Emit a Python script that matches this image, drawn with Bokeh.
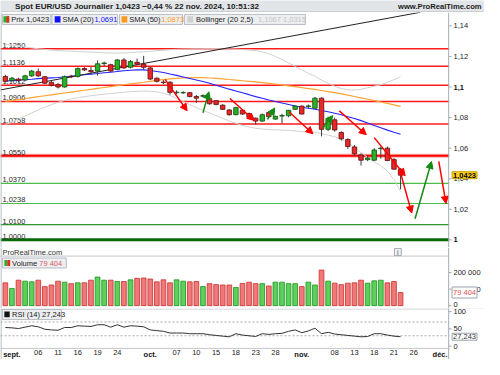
from bokeh.plotting import figure
from bokeh.layouts import column
from bokeh.models import (ColumnDataSource, Range1d, FixedTicker, Span, Label, LabelSet,
                          Arrow, NormalHead)
from bokeh.core.properties import value
from bokeh.embed import file_html
from bokeh.resources import INLINE

# ---------------- data ----------------
bar_idx = list(range(-1, 60))   # -1 = 30 Aug, 0 = 2 Sep ... 59 = 22 Nov
opens = [1.1069, 1.1042, 1.1052, 1.1046, 1.1073, 1.1100, 1.1067, 1.1031, 1.1017, 1.1000,
         1.1071, 1.1069, 1.1121, 1.1108, 1.1104, 1.1153, 1.1146, 1.1115, 1.1177, 1.1129,
         1.1162, 1.1150, 1.1125, 1.1058, 1.1032, 1.1031, 1.0963, 1.0962, 1.0963, 1.0938,
         1.0940, 1.0923, 1.0911, 1.0881, 1.0850, 1.0819, 1.0848, 1.0827, 1.0796, 1.0777,
         1.0833, 1.0790, 1.0810, 1.0812, 1.0854, 1.0875, 1.0873, 1.0861, 1.0927, 1.0723,
         1.0786, 1.0702, 1.0656, 1.0608, 1.0556, 1.0525, 1.0521, 1.0596, 1.0600, 1.0525,
         1.0462]
highs = [1.1080, 1.1066, 1.1060, 1.1080, 1.1112, 1.1121, 1.1072, 1.1038, 1.1025, 1.1075,
         1.1080, 1.1128, 1.1130, 1.1131, 1.1174, 1.1166, 1.1152, 1.1183, 1.1190, 1.1175,
         1.1186, 1.1204, 1.1130, 1.1062, 1.1045, 1.1038, 1.0978, 1.0972, 1.0968, 1.0948,
         1.0952, 1.0930, 1.0915, 1.0888, 1.0855, 1.0870, 1.0855, 1.0832, 1.0800, 1.0826,
         1.0838, 1.0812, 1.0825, 1.0850, 1.0880, 1.0880, 1.0885, 1.0935, 1.0932, 1.0806,
         1.0800, 1.0710, 1.0665, 1.0620, 1.0565, 1.0552, 1.0600, 1.0610, 1.0610, 1.0535,
         1.0470]
lows = [1.1030, 1.1036, 1.1030, 1.1040, 1.1066, 1.1066, 1.1018, 1.1004, 1.0990, 1.0996,
        1.1058, 1.1062, 1.1104, 1.1083, 1.1075, 1.1138, 1.1098, 1.1110, 1.1120, 1.1122,
        1.1143, 1.1115, 1.1045, 1.1030, 1.1018, 1.0950, 1.0952, 1.0955, 1.0932, 1.0896,
        1.0932, 1.0885, 1.0880, 1.0850, 1.0812, 1.0815, 1.0818, 1.0795, 1.0756, 1.0772,
        1.0800, 1.0786, 1.0762, 1.0802, 1.0850, 1.0820, 1.0860, 1.0858, 1.0677, 1.0712,
        1.0708, 1.0650, 1.0595, 1.0550, 1.0486, 1.0515, 1.0515, 1.0531, 1.0515, 1.0460,
        1.0331]
closes = [1.1037, 1.1058, 1.1042, 1.1073, 1.1104, 1.1073, 1.1025, 1.1011, 1.1000, 1.1069,
          1.1067, 1.1121, 1.1112, 1.1100, 1.1152, 1.1157, 1.1104, 1.1177, 1.1125, 1.1167,
          1.1150, 1.1129, 1.1052, 1.1037, 1.1029, 1.0965, 1.0966, 1.0964, 1.0938, 1.0927,
          1.0943, 1.0890, 1.0886, 1.0854, 1.0819, 1.0865, 1.0823, 1.0802, 1.0777, 1.0819,
          1.0806, 1.0808, 1.0813, 1.0848, 1.0875, 1.0823, 1.0876, 1.0927, 1.0723, 1.0786,
          1.0719, 1.0661, 1.0611, 1.0563, 1.0521, 1.0535, 1.0588, 1.0600, 1.0519, 1.0462,
          1.0423]
volumes = [138000, 104000, 154000, 148000, 144000, 154000, 115000, 125000, 148000, 142000,
           133000, 138000, 138000, 154000, 173000, 154000, 154000, 146000, 146000, 156000,
           165000, 167000, 161000, 144000, 156000, 138000, 156000, 148000, 144000, 146000,
           115000, 133000, 127000, 125000, 125000, 110000, 134000, 142000, 133000, 133000,
           119000, 142000, 142000, 133000, 133000, 115000, 142000, 125000, 215000, 148000,
           136000, 127000, 136000, 138000, 154000, 136000, 150000, 154000, 138000, 146000,
           79404]
sma20 = [1.1040, 1.1042, 1.1045, 1.1048, 1.1051, 1.1055, 1.1058, 1.1060, 1.1062, 1.1066,
         1.1070, 1.1075, 1.1080, 1.1084, 1.1088, 1.1093, 1.1097, 1.1102, 1.1106, 1.1110,
         1.1112, 1.1112, 1.1108, 1.1102, 1.1095, 1.1085, 1.1076, 1.1066, 1.1056, 1.1046,
         1.1036, 1.1024, 1.1012, 1.0999, 1.0986, 1.0974, 1.0962, 1.0950, 1.0937, 1.0926,
         1.0915, 1.0905, 1.0895, 1.0886, 1.0876, 1.0868, 1.0861, 1.0854, 1.0846, 1.0838,
         1.0828, 1.0818, 1.0806, 1.0794, 1.0780, 1.0764, 1.0748, 1.0733, 1.0718, 1.0704,
         1.0691]
sma50 = [1.0906, 1.0911, 1.0917, 1.0923, 1.0930, 1.0937, 1.0943, 1.0949, 1.0955, 1.0961,
         1.0967, 1.0973, 1.0979, 1.0985, 1.0991, 1.0997, 1.1003, 1.1009, 1.1015, 1.1021,
         1.1026, 1.1031, 1.1037, 1.1043, 1.1048, 1.1053, 1.1057, 1.1060, 1.1062, 1.1062,
         1.1061, 1.1059, 1.1056, 1.1053, 1.1049, 1.1045, 1.1041, 1.1037, 1.1033, 1.1029,
         1.1024, 1.1019, 1.1014, 1.1008, 1.1002, 1.0996, 1.0990, 1.0984, 1.0977, 1.0970,
         1.0963, 1.0955, 1.0947, 1.0938, 1.0929, 1.0920, 1.0911, 1.0902, 1.0893, 1.0883,
         1.0873]
boll_upper = [1.1280, 1.1275, 1.1268, 1.1262, 1.1256, 1.1250, 1.1246, 1.1242, 1.1238, 1.1236,
              1.1234, 1.1232, 1.1230, 1.1228, 1.1226, 1.1224, 1.1222, 1.1222, 1.1223, 1.1225,
              1.1228, 1.1230, 1.1234, 1.1238, 1.1240, 1.1244, 1.1247, 1.1248, 1.1249, 1.1250,
              1.1250, 1.1251, 1.1251, 1.1250, 1.1249, 1.1248, 1.1245, 1.1242, 1.1238, 1.1230,
              1.1218, 1.1200, 1.1180, 1.1158, 1.1135, 1.1112, 1.1090, 1.1070, 1.1045, 1.1025,
              1.1005, 1.0990, 1.0982, 1.0980, 1.0985, 1.0995, 1.1005, 1.1015, 1.1030, 1.1048,
              1.1067]
boll_lower = [1.0755, 1.0770, 1.0790, 1.0810, 1.0830, 1.0850, 1.0868, 1.0885, 1.0900, 1.0912,
              1.0922, 1.0930, 1.0937, 1.0943, 1.0948, 1.0953, 1.0958, 1.0962, 1.0966, 1.0970,
              1.0972, 1.0974, 1.0972, 1.0968, 1.0960, 1.0945, 1.0925, 1.0905, 1.0885, 1.0865,
              1.0847, 1.0830, 1.0813, 1.0795, 1.0778, 1.0762, 1.0748, 1.0738, 1.0730, 1.0725,
              1.0722, 1.0720, 1.0718, 1.0716, 1.0712, 1.0708, 1.0706, 1.0705, 1.0695, 1.0685,
              1.0675, 1.0660, 1.0635, 1.0605, 1.0570, 1.0540, 1.0510, 1.0485, 1.0450, 1.0395,
              1.0315]
rsi14 = [54, 53, 51, 55, 59, 56, 49, 47, 46, 54,
         54, 59, 58, 57, 62, 62, 55, 62, 55, 59,
         58, 56, 47, 45, 43, 38, 38, 38, 36, 36,
         36, 33, 31, 29, 27, 36, 32, 30, 28, 36,
         34, 36, 37, 43, 47, 39, 44, 52, 36, 40,
         35, 33, 31, 29, 27, 28, 36, 36, 32, 29,
         27.243]

level_values = [1.1250, 1.1136, 1.1012, 1.0906, 1.0758, 1.0550, 1.0370, 1.0238, 1.0100, 1.0000]
level_labels = ["1,1250", "1,1136", "1,1012", "1,0906", "1,0758", "1,0550",
                "1,0370", "1,0238", "1,0100", "1,0000"]
level_kinds = ["res", "res", "res", "res", "res", "key", "sup", "sup", "sup2", "base"]

trend_idx = [-1.73, 62.0]
trend_price = [1.0981, 1.1489]

red_arrow_x0 = [23.25, 33.1, 42.05, 49.7, 55.0, 59.0, 64.8]
red_arrow_y0 = [1.1050, 1.0925, 1.0838, 1.0844, 1.0669, 1.0438, 1.0513]
red_arrow_x1 = [26.6, 36.8, 45.7, 53.8, 59.7, 60.7, 65.9]
red_arrow_y1 = [1.0844, 1.0781, 1.0694, 1.0688, 1.0419, 1.0175, 1.0238]
green_arrow_x0 = [29.0, 38.8, 47.2, 61.2]
green_arrow_y0 = [1.0831, 1.0788, 1.0731, 1.0138]
green_arrow_x1 = [29.9, 39.9, 48.7, 63.7]
green_arrow_y1 = [1.0969, 1.0863, 1.0813, 1.0513]

price_ticks = [1.0, 1.02, 1.04, 1.06, 1.08, 1.10, 1.12, 1.14]
price_tick_labels = ["1", "1,02", "1,04", "1,06", "1,08", "1,1", "1,12", "1,14"]
price_bold_ticks = [1.0, 1.10]
vol_ticks = [0, 100000, 200000]
vol_tick_labels = ["0", "100 000", "200 000"]
rsi_ticks = [0, 50, 100]
rsi_tick_labels = ["0", "50", "100"]
rsi_levels = [70, 30]
date_ticks = [0, 4, 7, 10, 13, 16, 21, 25, 28, 31, 34, 37, 40, 44, 49, 52, 55, 58, 61, 65]
date_labels = ["sept.", "06", "11", "16", "19", "24", "oct.", "07", "10", "15", "18", "23",
               "28", "nov.", "08", "13", "18", "21", "26", "déc."]
month_labels = ["sept.", "oct.", "nov.", "déc."]

title_text = "Spot EUR/USD Journalier 1,0423 \u22120,44 % 22 nov. 2024, 10:51:32"
site_text = "www.ProRealTime.com"
last_price, last_price_text = 1.0423, "1,0423"
last_volume, last_volume_text = 79404, "79 404"
last_rsi, last_rsi_text = 27.243, "27,243"
legend_names = ["Prix 1,0423", "SMA (20)", "SMA (50)", "Bollinger (20 2,5)"]
legend_values = ["", "1,0691", "1,0873", "1,1067 1,0315"]

# ---------------- layout / style ----------------
FONT = "Liberation Sans"
FS = "7.5px"
W = 484
AXIS_C = "#a3abb4"
GREEN_C = "#138a13"
MAIN_H = 235

# reference-pixel helpers (placement of layout items only)
def rx(px): return (px - 11.8) / 6.805
def ry(py): return 1 + (250 - py) / 1600.0
def rv(py): return (319 - py) / 17.35 * 100000
def rr(py): return (361.1 - py) / 0.3583

xr = Range1d(rx(0), rx(500))


def base_fig(height, y_range, ticks, labels, **kw):
    f = figure(width=W, height=height, x_range=xr, y_range=y_range, toolbar_location=None,
               output_backend="svg", y_axis_location="right",
               min_border_left=0, min_border_right=0, min_border_top=0, min_border_bottom=0, **kw)
    f.outline_line_color = None
    f.grid.visible = False
    f.background_fill_color = "white"
    f.border_fill_color = "white"
    ax = f.yaxis[0]
    ax.ticker = FixedTicker(ticks=ticks)
    ax.major_label_overrides = {t: l for t, l in zip(ticks, labels)}
    ax.axis_line_color = None
    ax.major_tick_line_color = None
    ax.major_tick_out = 0
    ax.major_tick_in = 0
    ax.minor_tick_line_color = None
    ax.major_label_text_font = FONT
    ax.major_label_text_font_size = FS
    ax.major_label_text_color = "#222222"
    ax.major_label_standoff = -31
    return f


def finish(f, ticks, yr):
    # blank strip right of the frame edge that carries the price scale
    f.quad(left=rx(463.5), right=rx(520), bottom=yr.start, top=yr.end,
           fill_color="white", line_color=None)
    f.segment(x0=[rx(463)] * len(ticks), x1=[rx(466)] * len(ticks), y0=ticks, y1=ticks,
              line_color=AXIS_C, line_width=1)
    f.add_layout(Span(location=rx(463), dimension="height", line_color=AXIS_C, line_width=1))
    f.add_layout(Span(location=rx(0.5), dimension="height", line_color=AXIS_C, line_width=1))


def text(f, x, y, t, color="#1a1a1a", bold=False, align="left", size=FS):
    f.text(x=x, y=y, text=t, text_font=value(FONT), text_font_size=size,
           text_color=color, text_baseline="middle", text_align=align,
           text_font_style="bold" if bold else "normal")


def side_label(f, y, t, color, bg, border, bold=False):
    f.add_layout(Label(x=rx(466.5), y=y, text=t, text_font=FONT, text_font_size=FS,
                       text_font_style="bold" if bold else "normal", text_color=color,
                       text_baseline="middle", background_fill_color=bg,
                       border_line_color=border, padding=1))

# ---------------- header ----------------
hdr = figure(width=W, height=12, x_range=(0, 500), y_range=(0, 12), toolbar_location=None,
             output_backend="svg", x_axis_location=None, y_axis_location=None,
             min_border_left=0, min_border_right=0, min_border_top=0, min_border_bottom=0)
hdr.outline_line_color = None
hdr.grid.visible = False
hdr.background_fill_color = "#e2e5e8"
hdr.border_fill_color = "#e2e5e8"
hdr.add_layout(Span(location=0.5, dimension="width", line_color="#b4bac1", line_width=1))
text(hdr, [15], [6], [title_text], color="#1c1c1c", bold=True, size="8.1px")
text(hdr, [497], [6], [site_text], color="#1c1c1c", bold=True, align="right", size="7.6px")

# ---------------- price panel ----------------
pyr = Range1d(ry(258), ry(12))
p = base_fig(MAIN_H, pyr, price_ticks,
             [("" if t in price_bold_ticks else l) for t, l in zip(price_ticks, price_tick_labels)],
             x_axis_location=None)

# horizontal support / resistance levels
kind_style = {"res": ("#ff1a1a", 1.5), "key": ("#ff0000", 2), "sup": ("#4cbb4c", 1.2),
              "sup2": ("#2f942f", 1.2), "base": ("#0a6a0a", 3)}
for val, kind in zip(level_values, level_kinds):
    c, w = kind_style[kind]
    if kind == "key":
        p.add_layout(Span(location=val, dimension="width", line_color="#ffb0b0",
                          line_width=4, level="underlay"))
    p.add_layout(Span(location=val, dimension="width", line_color=c, line_width=w,
                      level="underlay"))

p.text(x=[rx(2)] * len(level_values), y=level_values, text=level_labels,
       text_font=value(FONT), text_font_size=FS, text_color="#2a2a2a",
       text_baseline="bottom", y_offset=-1)

p.line(bar_idx, boll_upper, line_color="#d2d2d2", line_width=1)
p.line(bar_idx, boll_lower, line_color="#d2d2d2", line_width=1)
p.line(bar_idx, sma50, line_color="#ffa333", line_width=1.2)
p.line(bar_idx, sma20, line_color="#2424ff", line_width=1.1)
p.line(trend_idx, trend_price, line_color="#222222", line_width=1)

up = [c >= o for o, c in zip(opens, closes)]
csrc = ColumnDataSource(dict(
    x=bar_idx, h=highs, l=lows,
    top=[max(o, c) for o, c in zip(opens, closes)],
    bottom=[min(o, c) for o, c in zip(opens, closes)],
    fill=["#27b327" if u else "#e82828" for u in up],
    edge=["#0f4f0f" if u else "#5a1010" for u in up],
))
p.segment(x0="x", y0="l", x1="x", y1="h", source=csrc, line_color="#3a3a3a", line_width=1)
p.vbar(x="x", width=0.68, top="top", bottom="bottom", source=csrc,
       fill_color="fill", line_color="edge", line_width=0.8)

for xs0, ys0, xs1, ys1, col in ((red_arrow_x0, red_arrow_y0, red_arrow_x1, red_arrow_y1, "#ff0000"),
                                (green_arrow_x0, green_arrow_y0, green_arrow_x1, green_arrow_y1, GREEN_C)):
    for a, b, c, d in zip(xs0, ys0, xs1, ys1):
        p.add_layout(Arrow(end=NormalHead(size=7, fill_color=col, line_color=col),
                           x_start=a, y_start=b, x_end=c, y_end=d,
                           line_color=col, line_width=1.5))

# legend boxes
box_l = [2, 53, 123, 190]
box_r = [52, 121, 188, 315]
icon_l = [3, 56, 125, 193]
icon_c = ["#27b327", "#1010ff", "#ff9a1a", "#cfcfcf"]
name_x = [11, 64, 133, 202]
value_x = [0, 97, 166, 266]
value_c = ["#111111", "#1010ff", "#ff9a1a", "#c4c4c4"]
p.quad(left=[rx(v) for v in box_l], right=[rx(v) for v in box_r],
       top=ry(14), bottom=ry(24.5), fill_color="#eceef0", line_color="#b7bcc2", line_width=1)
p.quad(left=[rx(v) for v in icon_l], right=[rx(v + 6) for v in icon_l],
       top=ry(16), bottom=ry(22.5), fill_color=icon_c, line_color=None)
p.quad(left=rx(6), right=rx(9), top=ry(16), bottom=ry(22.5), fill_color="#e82828", line_color=None)
for nm, nx, vv, vx, vc in zip(legend_names, name_x, legend_values, value_x, value_c):
    text(p, [rx(nx)], [ry(19.3)], [nm])
    if vv:
        text(p, [rx(vx)], [ry(19.3)], [vv], color=vc)

finish(p, price_ticks, pyr)
bold_lbl = [l for t, l in zip(price_ticks, price_tick_labels) if t in price_bold_ticks]
p.add_layout(LabelSet(source=ColumnDataSource(dict(x=[rx(468)] * len(price_bold_ticks),
                                                   y=price_bold_ticks, t=bold_lbl)),
                      x="x", y="y", text="t", text_font=value(FONT), text_font_size=FS,
                      text_font_style="bold", text_color="#111111", text_baseline="middle"))
side_label(p, last_price, last_price_text, "#000000", "#ffd21f", "#c9a400", bold=True)

# ---------------- volume panel ----------------
vyr = Range1d(rv(322), rv(258))
pv = base_fig(61, vyr, vol_ticks, vol_tick_labels, x_axis_location=None)
pv.segment(x0=[xr.start], x1=[xr.end], y0=[rv(267)], y1=[rv(267)], line_color="#c3c8ce", line_width=1)
text(pv, [rx(2)], [rv(263)], ["ProRealTime.com"], color="#333333")
pv.quad(left=rx(407), right=rx(414), top=rv(259), bottom=rv(266.5),
        fill_color="#eef0f2", line_color="#a4aab0")
text(pv, [rx(410.5)], [rv(262.8)], ["i"], color="#555555", align="center", size="7px")

vsrc = ColumnDataSource(dict(
    x=bar_idx, v=volumes,
    fill=["#5ccf5c" if u else "#ef7878" for u in up],
    edge=["#1a961a" if u else "#cc3030" for u in up],
))
pv.vbar(x="x", width=0.72, top="v", bottom=0, source=vsrc, fill_color="fill",
        line_color="edge", line_width=0.8)
pv.quad(left=rx(2), right=rx(68), top=rv(269), bottom=rv(279.5),
        fill_color="#eceef0", line_color="#b7bcc2")
pv.quad(left=rx(4), right=rx(7), top=rv(271), bottom=rv(277.5), fill_color="#27b327", line_color=None)
pv.quad(left=rx(7), right=rx(10), top=rv(271), bottom=rv(277.5), fill_color="#e82828", line_color=None)
text(pv, [rx(12)], [rv(274.3)], ["Volume"])
text(pv, [rx(40)], [rv(274.3)], [last_volume_text], color="#e06060")
finish(pv, vol_ticks, vyr)
side_label(pv, last_volume, last_volume_text, "#e05050", "white", "#9aa3ad")

# ---------------- RSI panel (with the date strip) ----------------
ryr = Range1d(rr(375), rr(322))
pr = base_fig(51, ryr, rsi_ticks, rsi_tick_labels, x_axis_location="below")
for yy in (rr(322.5), rr(363.5)):
    pr.segment(x0=[xr.start], x1=[xr.end], y0=[yy], y1=[yy], line_color="#c3c8ce", line_width=1)
pr.segment(x0=[xr.start] * len(rsi_levels), x1=[xr.end] * len(rsi_levels), y0=rsi_levels,
           y1=rsi_levels, line_color="#a8a8a8", line_width=1, line_dash="2 2")
pr.line(bar_idx, rsi14, line_color="#333333", line_width=1)
pr.quad(left=rx(2), right=rx(63), top=rr(323), bottom=rr(333.5),
        fill_color="#eceef0", line_color="#b7bcc2")
pr.quad(left=rx(4), right=rx(9.5), top=rr(325), bottom=rr(331), fill_color="#111111", line_color=None)
text(pr, [rx(12)], [rr(328.3)], ["RSI (14) " + last_rsi_text])
finish(pr, rsi_ticks, ryr)
side_label(pr, last_rsi, last_rsi_text, "#333333", "white", "#9aa3ad")

xa = pr.xaxis[0]
xa.ticker = FixedTicker(ticks=date_ticks)
xa.major_label_overrides = {t: ("" if l in month_labels else l) for t, l in zip(date_ticks, date_labels)}
xa.axis_line_color = None
xa.major_tick_line_color = None
xa.major_tick_out = 0
xa.major_tick_in = 0
xa.minor_tick_line_color = None
xa.major_label_text_font = FONT
xa.major_label_text_font_size = FS
xa.major_label_text_color = "#222222"
xa.major_label_standoff = -10
mx = [t for t, l in zip(date_ticks, date_labels) if l in month_labels]
ml = [l for l in date_labels if l in month_labels]
pr.add_layout(LabelSet(source=ColumnDataSource(dict(x=mx, y=[rr(365.2)] * len(mx), t=ml)),
                       x="x", y="y", text="t", text_font=value(FONT), text_font_size=FS,
                       text_font_style="bold", text_color="#111111", text_align="center",
                       text_baseline="top"))

layout = column(hdr, p, pv, pr, spacing=0)
open("out.html", "w").write(file_html(layout, INLINE))
